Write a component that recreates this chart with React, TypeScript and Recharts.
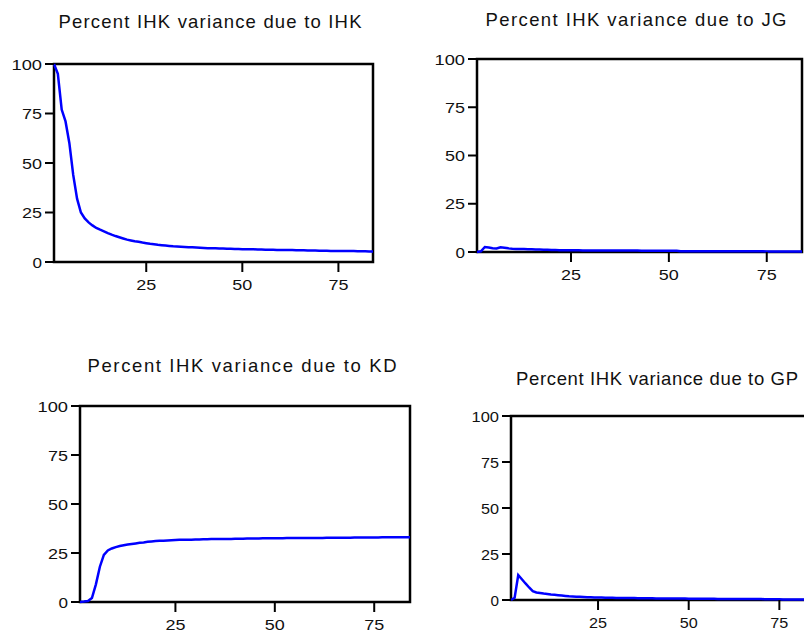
import React from "react"
import { LineChart, Line, XAxis, YAxis, ReferenceArea } from "recharts"

// forecast horizon shared by all four panels
const horizon = 84

// percent of IHK forecast error variance explained by each shock
const ihkShare = [
  100, 95, 77, 71, 60, 44, 32, 25, 22, 20,
  18.5, 17.2, 16.3, 15.5, 14.6, 13.8, 13.1, 12.5, 11.9, 11.3,
  10.9, 10.5, 10.2, 9.8, 9.5, 9.2, 9.0, 8.7, 8.5, 8.3,
  8.1, 7.9, 7.8, 7.7, 7.6, 7.5, 7.4, 7.3, 7.2, 7.1,
  7.0, 7.0, 6.9, 6.8, 6.8, 6.7, 6.7, 6.6, 6.6, 6.5,
  6.5, 6.4, 6.4, 6.3, 6.3, 6.2, 6.2, 6.2, 6.1, 6.1,
  6.0, 6.0, 6.0, 5.9, 5.9, 5.9, 5.8, 5.8, 5.8, 5.7,
  5.7, 5.7, 5.6, 5.6, 5.6, 5.5, 5.5, 5.5, 5.5, 5.4,
  5.4, 5.4, 5.3, 5.3,
]

const jgShare = [
  0, 0.4, 2.6, 2.3, 2.0, 1.8, 2.4, 2.2, 1.9, 1.7,
  1.6, 1.5, 1.5, 1.4, 1.4, 1.3, 1.3, 1.2, 1.2, 1.1,
  1.1, 0.9, 0.9, 0.9, 0.85, 0.85, 0.85, 0.8, 0.8, 0.8,
  0.8, 0.8, 0.8, 0.8, 0.8, 0.75, 0.75, 0.75, 0.75, 0.75,
  0.75, 0.75, 0.7, 0.7, 0.7, 0.7, 0.7, 0.7, 0.7, 0.7,
  0.7, 0.65, 0.45, 0.45, 0.45, 0.45, 0.4, 0.4, 0.4, 0.4,
  0.4, 0.4, 0.4, 0.4, 0.4, 0.35, 0.35, 0.35, 0.35, 0.35,
  0.35, 0.35, 0.35, 0.35, 0.3, 0.3, 0.3, 0.3, 0.3, 0.3,
  0.3, 0.3, 0.3, 0.3,
]

const kdShare = [
  0, 0.2, 0.5, 2.0, 9, 18, 24, 26.3, 27.3, 28,
  28.6, 29.0, 29.3, 29.6, 29.9, 30.2, 30.4, 30.7, 30.9, 31.1,
  31.2, 31.3, 31.4, 31.5, 31.6, 31.7, 31.7, 31.8, 31.8, 31.9,
  31.9, 32.0, 32.0, 32.1, 32.1, 32.1, 32.2, 32.2, 32.2, 32.3,
  32.3, 32.3, 32.4, 32.4, 32.4, 32.4, 32.5, 32.5, 32.5, 32.5,
  32.5, 32.5, 32.6, 32.6, 32.6, 32.6, 32.6, 32.6, 32.7, 32.7,
  32.7, 32.7, 32.8, 32.8, 32.8, 32.8, 32.8, 32.8, 32.8, 32.9,
  32.9, 32.9, 32.9, 32.9, 32.9, 32.9, 33.0, 33.0, 33.0, 33.0,
  33.0, 33.0, 33.0, 33.0,
]

const gpShare = [
  0, 1.2, 13.5, 11.3, 9.0, 6.8, 4.8, 4.1, 3.8, 3.5,
  3.3, 3.0, 2.8, 2.6, 2.4, 2.2, 2.0, 1.9, 1.8, 1.7,
  1.6, 1.5, 1.45, 1.4, 1.35, 1.3, 1.25, 1.2, 1.2, 1.15,
  1.15, 1.1, 1.1, 1.05, 1.05, 1.0, 0.95, 0.9, 0.9, 0.9,
  0.85, 0.85, 0.85, 0.8, 0.8, 0.8, 0.75, 0.75, 0.75, 0.7,
  0.7, 0.7, 0.7, 0.65, 0.65, 0.65, 0.65, 0.6, 0.6, 0.6,
  0.6, 0.55, 0.55, 0.55, 0.55, 0.5, 0.5, 0.5, 0.5, 0.5,
  0.45, 0.35, 0.35, 0.35, 0.35, 0.3, 0.3, 0.3, 0.3, 0.3,
  0.3, 0.3, 0.3, 0.3,
]

const xTicks = [25, 50, 75]
const yTicks = [0, 25, 50, 75, 100]

const titles = [
  "Percent IHK variance due to IHK",
  "Percent IHK variance due to JG",
  "Percent IHK variance due to KD",
  "Percent IHK variance due to GP",
]

const rows = ihkShare.map((v, i) => ({
  period: i + 1,
  ihk: v,
  jg: jgShare[i],
  kd: kdShare[i],
  gp: gpShare[i],
}))

const FONT = "'Liberation Sans', Arial, sans-serif"
const Y_AXIS_W = 70
const X_AXIS_H = 40
const PAD = 14

// plot boxes in page pixels, title placement and how wide the digits are drawn
const panels = [
  { key: "ihk", left: 54, top: 64, right: 373, bottom: 262, tx: 210, ty: 28, tw: 303, digit: 10.5 },
  { key: "jg", left: 477, top: 59, right: 802, bottom: 252, tx: 636, ty: 26, tw: 301, digit: 10.5 },
  { key: "kd", left: 80, top: 406, right: 410, bottom: 602, tx: 242, ty: 372, tw: 309, digit: 10.5 },
  { key: "gp", left: 511, top: 416, right: 812, bottom: 600, tx: 657, ty: 385, tw: 282, digit: 9.5 },
]

const TickText = (props: any) => {
  const { x, y, payload, anchor, dy, digit } = props
  const label = String(payload.value)
  return (
    <text
      x={x}
      y={y}
      dy={dy}
      textAnchor={anchor}
      fontSize={15.5}
      fontFamily={FONT}
      fill="#111"
      textLength={label.length * digit - 1}
      lengthAdjust="spacingAndGlyphs"
    >
      {label}
    </text>
  )
}

const Panel = ({ p }: { p: (typeof panels)[number] }) => {
  const plotW = p.right - p.left
  const plotH = p.bottom - p.top
  return (
    <div style={{ position: "absolute", left: p.left - Y_AXIS_W, top: p.top - PAD }}>
      <LineChart
        width={Y_AXIS_W + plotW + PAD}
        height={PAD + plotH + X_AXIS_H}
        data={rows}
        margin={{ top: PAD, right: PAD, left: 0, bottom: 0 }}
      >
        <XAxis
          dataKey="period"
          type="number"
          domain={[1, horizon]}
          ticks={xTicks}
          height={X_AXIS_H}
          axisLine={false}
          tickSize={10}
          tickMargin={7}
          tickLine={{ stroke: "#000", strokeWidth: 2 }}
          tick={(t: any) => <TickText {...t} anchor="middle" dy="0.71em" digit={p.digit} />}
          interval={0}
        />
        <YAxis
          type="number"
          domain={[0, 100]}
          ticks={yTicks}
          width={Y_AXIS_W}
          axisLine={false}
          tickSize={9}
          tickMargin={3}
          tickLine={{ stroke: "#000", strokeWidth: 2 }}
          tick={(t: any) => <TickText {...t} anchor="end" dy="0.36em" digit={p.digit} />}
          interval={0}
        />
        <ReferenceArea
          x1={1}
          x2={horizon}
          y1={0}
          y2={100}
          fill="none"
          stroke="#000"
          strokeWidth={2.5}
          ifOverflow="visible"
        />
        <Line
          type="linear"
          dataKey={p.key}
          stroke="#0000ff"
          strokeWidth={2.5}
          dot={false}
          activeDot={false}
          isAnimationActive={false}
        />
      </LineChart>
    </div>
  )
}

export default function App() {
  return (
    <div
      style={{
        position: "absolute",
        left: 0,
        top: 0,
        width: 804,
        height: 632,
        overflow: "hidden",
        background: "#fff",
      }}
    >
      {panels.map((p) => (
        <Panel key={p.key} p={p} />
      ))}
      <svg width={804} height={632} style={{ position: "absolute", left: 0, top: 0, pointerEvents: "none" }}>
        {panels.map((p, i) => (
          <text
            key={p.key}
            x={p.tx}
            y={p.ty}
            textAnchor="middle"
            fontSize={18.5}
            fontFamily={FONT}
            fill="#111"
            textLength={p.tw}
            lengthAdjust="spacing"
          >
            {titles[i]}
          </text>
        ))}
      </svg>
    </div>
  )
}
